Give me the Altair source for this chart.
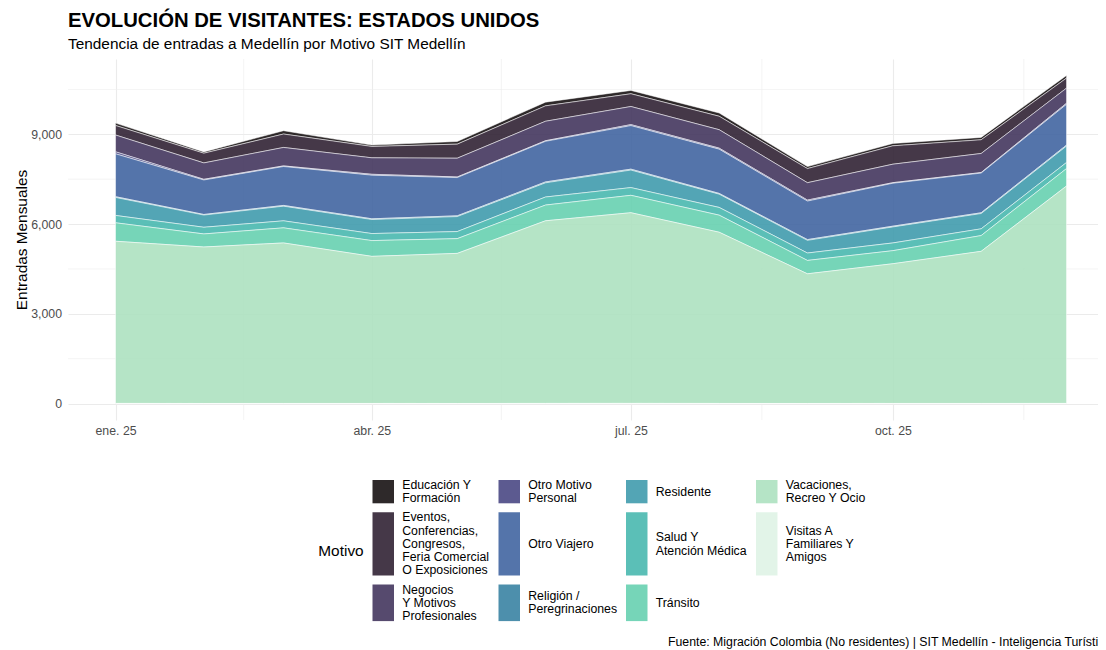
import altair as alt
import pandas as pd

# ---------------- data ----------------
meses = ["2025-01-01", "2025-02-01", "2025-03-01", "2025-04-01", "2025-05-01", "2025-06-01",
         "2025-07-01", "2025-08-01", "2025-09-01", "2025-10-01", "2025-11-01", "2025-12-01"]

motivos = [
    "Educación Y Formación",
    "Eventos, Conferencias, Congresos, Feria Comercial O Exposiciones",
    "Negocios Y Motivos Profesionales",
    "Otro Motivo Personal",
    "Otro Viajero",
    "Religión / Peregrinaciones",
    "Residente",
    "Salud Y Atención Médica",
    "Tránsito",
    "Vacaciones, Recreo Y Ocio",
    "Visitas A Familiares Y Amigos",
]
etiquetas = [
    "Educación Y\nFormación",
    "Eventos,\nConferencias,\nCongresos,\nFeria Comercial\nO Exposiciones",
    "Negocios\nY Motivos\nProfesionales",
    "Otro Motivo\nPersonal",
    "Otro Viajero",
    "Religión /\nPeregrinaciones",
    "Residente",
    "Salud Y\nAtención Médica",
    "Tránsito",
    "Vacaciones,\nRecreo Y Ocio",
    "Visitas A\nFamiliares Y\nAmigos",
]
colores = ["#171213", "#312234", "#44365e", "#4a4884", "#4165a1", "#3a83a3",
           "#409bad", "#49b8af", "#67d0b0", "#ade1c0", "#dff3e5"]

educacion    = [80, 44, 112, 45, 89, 124, 112, 110, 67, 79, 80, 89]
eventos      = [319, 325, 448, 380, 471, 515, 426, 450, 471, 615, 458, 336]
negocios     = [561, 548, 617, 550, 627, 651, 605, 616, 582, 617, 638, 504]
otro_motivo  = [67, 23, 20, 30, 21, 20, 33, 34, 33, 20, 17, 35]
otro_viajero = [1433, 1153, 1301, 1458, 1278, 1357, 1456, 1480, 1288, 1435, 1327, 1365]
religion     = [25, 20, 25, 25, 25, 30, 30, 25, 25, 25, 25, 30]
residente    = [602, 407, 490, 469, 501, 474, 586, 443, 423, 535, 512, 551]
salud        = [246, 223, 235, 235, 236, 269, 258, 258, 247, 258, 225, 203]
transito     = [617, 437, 504, 527, 493, 526, 582, 571, 448, 437, 527, 583]
vacaciones   = [5420, 5230, 5365, 4916, 5017, 6104, 6373, 5723, 4334, 4670, 5084, 7268]
visitas      = [6, 4, 5, 5, 4, 6, 7, 5, 4, 5, 5, 6]

series = [educacion, eventos, negocios, otro_motivo, otro_viajero, religion,
          residente, salud, transito, vacaciones, visitas]

tick_fechas = ["2025-01-01", "2025-04-01", "2025-07-01", "2025-10-01"]
tick_etiquetas = ["ene. 25", "abr. 25", "jul. 25", "oct. 25"]
minor_fechas = ["2025-02-15T00:00:00Z", "2025-05-16T12:00:00Z", "2025-08-16T00:00:00Z", "2025-11-16T00:00:00Z"]
y_ticks = [0, 3000, 6000, 9000]
y_minor = [1500, 4500, 7500, 10500]

titulo = "EVOLUCIÓN DE VISITANTES: ESTADOS UNIDOS"
subtitulo = "Tendencia de entradas a Medellín por Motivo SIT Medellín"
fuente = "Fuente: Migración Colombia (No residentes) | SIT Medellín - Inteligencia Turística"
titulo_y = "Entradas Mensuales"
titulo_leyenda = "Motivo"

# ---------------- tables ----------------
rows = []
n = len(motivos)
for k, (m, vals) in enumerate(zip(motivos, series)):
    for f, v in zip(meses, vals):
        rows.append({"fecha": f, "motivo": m, "valor": v, "orden": n - 1 - k})
df = pd.DataFrame(rows)

FONT = "Liberation Sans"
W, H = 1030, 361


def ms(s):
    ts = pd.Timestamp(s)
    if ts.tzinfo is None:
        ts = ts.tz_localize("UTC")
    return int(ts.value // 10**6)


d0, d1 = ms(meses[0]), ms(meses[-1])
span = d1 - d0
lo = d0 - 0.05 * span
full_px = 951 * 1.1  # ggplot panel width for the full expanded range
hi = lo + 1.1 * span * (W / full_px)
x_scale = alt.Scale(type="utc", domain=[lo, hi])

totales = df.groupby("fecha")["valor"].sum()
ymax = float(totales.max())
pad = 0.05 * ymax
y_scale = alt.Scale(domain=[-pad, ymax + pad], nice=False, zero=False)

label_expr = "[" + ",".join(f"'{t}'" for t in tick_etiquetas) + "][indexof([" + \
    ",".join(str(pd.Timestamp(t).month - 1) for t in tick_fechas) + "], utcmonth(datum.value))]"

# minor grid
minor_h = alt.Chart(pd.DataFrame({"v": y_minor})).mark_rule(color="#ececec", strokeWidth=0.6).encode(
    y=alt.Y("v:Q", scale=y_scale, axis=None))
minor_v = alt.Chart(pd.DataFrame({"f": minor_fechas})).mark_rule(color="#ececec", strokeWidth=0.6).encode(
    x=alt.X("f:T", scale=x_scale, axis=None))

area = alt.Chart(df).mark_area(fillOpacity=0.9, stroke="white", strokeWidth=0.6,
                               strokeOpacity=0.85, interpolate="linear").encode(
    x=alt.X("fecha:T", scale=x_scale,
            axis=alt.Axis(values=[ms(t) for t in tick_fechas], labelExpr=label_expr, title=None,
                          grid=True, gridColor="#ebebeb", gridWidth=1.1, ticks=False, domain=False,
                          labelFont=FONT, labelFontSize=12.3, labelColor="#4d4d4d", labelPadding=4,
                          labelFlush=False)),
    y=alt.Y("valor:Q", stack="zero", scale=y_scale,
            axis=alt.Axis(values=y_ticks, format=",.0f", title=titulo_y, grid=True, gridColor="#ebebeb",
                          gridWidth=1.1, ticks=False, domain=False, labelFont=FONT, labelFontSize=12.3,
                          labelColor="#4d4d4d", labelPadding=6.5, titleFont=FONT, titleFontSize=15.4,
                          titleFontWeight="normal", titleColor="black", titlePadding=1.5)),
    color=alt.Color("motivo:N", scale=alt.Scale(domain=motivos, range=colores), legend=None),
    order=alt.Order("orden:Q", sort="ascending"),
)

# ---------------- manual legend (ggplot style) ----------------
col_x = [304.5, 430.5, 558, 688]
key_w = 21.5
label_dx = 29.7
line_h = 13.3
row_gap = 9
top0 = 421
nrows = 3
nlines = [len(e.split("\n")) for e in etiquetas]
row_h = []
for r in range(nrows):
    mx = max(nlines[i] for i in range(n) if i % nrows == r)
    row_h.append(mx * line_h - 3.3)
row_top = [top0]
for r in range(1, nrows):
    row_top.append(row_top[-1] + row_h[r - 1] + row_gap)

leg = []
for i, (m, e) in enumerate(zip(motivos, etiquetas)):
    c, r = i // nrows, i % nrows
    centro = row_top[r] + row_h[r] / 2
    leg.append({"motivo": m, "etiqueta": e, "x1": col_x[c], "x2": col_x[c] + key_w,
                "y1": row_top[r], "y2": row_top[r] + row_h[r],
                "lx": col_x[c] + label_dx, "ly": centro - (nlines[i] - 1) * line_h / 2})
leg_df = pd.DataFrame(leg)

keys = alt.Chart(leg_df).mark_rect(fillOpacity=0.9).encode(
    x=alt.X("x1:Q", scale=None, axis=None), x2="x2:Q",
    y=alt.Y("y1:Q", scale=None, axis=None), y2="y2:Q",
    color=alt.Color("motivo:N", scale=alt.Scale(domain=motivos, range=colores), legend=None),
)
labels = alt.Chart(leg_df).mark_text(align="left", baseline="middle", lineBreak="\n",
                                     font=FONT, fontSize=12.3, lineHeight=13.3, color="black").encode(
    x=alt.X("lx:Q", scale=None, axis=None), y=alt.Y("ly:Q", scale=None, axis=None), text="etiqueta:N")

leg_title = alt.Chart(pd.DataFrame({"t": [titulo_leyenda]})).mark_text(
    align="left", baseline="middle", font=FONT, fontSize=15.4, color="black").encode(
    x=alt.value(250.3), y=alt.value((row_top[0] + row_top[-1] + row_h[-1]) / 2), text="t:N")

caption = alt.Chart(pd.DataFrame({"t": [fuente]})).mark_text(
    align="left", baseline="alphabetic", font=FONT, fontSize=12.3, color="black").encode(
    x=alt.value(600), y=alt.value(586.5), text="t:N")

chart = alt.layer(minor_h, minor_v, area, keys, labels, leg_title, caption).resolve_scale(
    x="independent", y="independent", color="shared"
).properties(
    width=W, height=H,
    title=alt.TitleParams(text=titulo, subtitle=subtitulo, anchor="start", frame="group",
                          font=FONT, fontSize=20.3, fontWeight="bold", color="black",
                          subtitleFont=FONT, subtitleFontSize=15.4, subtitleColor="black",
                          subtitlePadding=6, offset=6),
    autosize=alt.AutoSizeParams(type="none"),
    padding={"left": 60, "top": 51, "right": 0, "bottom": 230},
).configure_view(stroke=None)

chart.save("out.html", embed_options={"renderer": "svg", "actions": False})
